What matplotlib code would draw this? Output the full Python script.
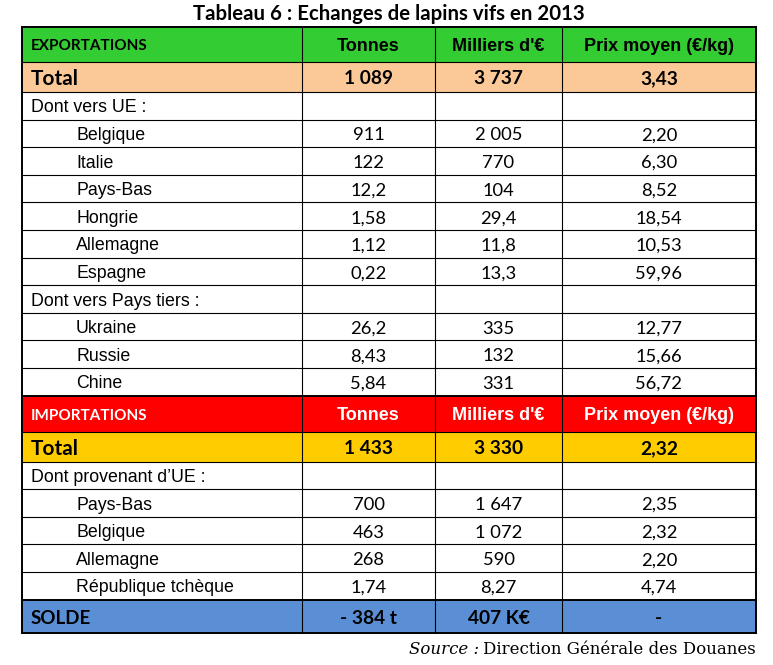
import matplotlib.pyplot as plt
from matplotlib.patches import Rectangle

# données du tableau
title = "Tableau 6 : Echanges de lapins vifs en 2013"
col_headers = ["Tonnes", "Milliers d'€", "Prix moyen (€/kg)"]

export_total = ["1 089", "3 737", "3,43"]
export_ue_pays = ["Belgique", "Italie", "Pays-Bas", "Hongrie", "Allemagne", "Espagne"]
export_ue_tonnes = ["911", "122", "12,2", "1,58", "1,12", "0,22"]
export_ue_milliers = ["2 005", "770", "104", "29,4", "11,8", "13,3"]
export_ue_prix = ["2,20", "6,30", "8,52", "18,54", "10,53", "59,96"]

export_tiers_pays = ["Ukraine", "Russie", "Chine"]
export_tiers_tonnes = ["26,2", "8,43", "5,84"]
export_tiers_milliers = ["335", "132", "331"]
export_tiers_prix = ["12,77", "15,66", "56,72"]

import_total = ["1 433", "3 330", "2,32"]
import_ue_pays = ["Pays-Bas", "Belgique", "Allemagne", "République tchèque"]
import_ue_tonnes = ["700", "463", "268", "1,74"]
import_ue_milliers = ["1 647", "1 072", "590", "8,27"]
import_ue_prix = ["2,35", "2,32", "2,20", "4,74"]

solde = ["- 384 t", "407 K€", "-"]

# couleurs
green = "#33CC33"
peach = "#FBC898"
red = "#FF0000"
yellow = "#FFCC00"
blue = "#5A8FD5"

calibri = "Lato"
arial = "Liberation Sans"

# construction des lignes : (label, valeurs, type)
rows = [("EXPORTATIONS", col_headers, "head_exp"),
        ("Total", export_total, "total_exp"),
        ("Dont vers UE :", ["", "", ""], "sub")]
for i, p in enumerate(export_ue_pays):
    rows.append((p, [export_ue_tonnes[i], export_ue_milliers[i], export_ue_prix[i]], "pays"))
rows.append(("Dont vers Pays tiers :", ["", "", ""], "sub"))
for i, p in enumerate(export_tiers_pays):
    rows.append((p, [export_tiers_tonnes[i], export_tiers_milliers[i], export_tiers_prix[i]], "pays"))
rows.append(("IMPORTATIONS", col_headers, "head_imp"))
rows.append(("Total", import_total, "total_imp"))
rows.append(("Dont provenant d\u2019UE :", ["", "", ""], "sub"))
for i, p in enumerate(import_ue_pays):
    rows.append((p, [import_ue_tonnes[i], import_ue_milliers[i], import_ue_prix[i]], "pays"))
rows.append(("SOLDE", solde, "solde"))

heights = {"head_exp": 35, "head_imp": 36, "total_exp": 30, "total_imp": 30,
           "sub": 27.6, "pays": 27.6, "solde": 33}
fills = {"head_exp": green, "head_imp": red, "total_exp": peach, "total_imp": yellow,
         "sub": "white", "pays": "white", "solde": blue}

col_x = [22, 302, 435, 562, 756]

W, H = 773, 665
fig = plt.figure(figsize=(W / 100, H / 100), dpi=100)
ax = fig.add_axes([0, 0, 1, 1])
ax.set_xlim(0, W)
ax.set_ylim(H, 0)
ax.axis("off")

ax.text((col_x[0] + col_x[-1]) / 2, 14, title, ha="center", va="center",
        fontsize=14.7, fontweight="bold", family=calibri)

y = 27
for label, vals, kind in rows:
    h = heights[kind]
    ax.add_patch(Rectangle((col_x[0], y), col_x[-1] - col_x[0], h,
                           facecolor=fills[kind], edgecolor="none", zorder=1))
    yc = y + h / 2 + 2
    if kind in ("head_exp", "head_imp"):
        fc = "white" if kind == "head_imp" else "black"
        ax.text(col_x[0] + 9, yc, label, ha="left", va="center", fontsize=11,
                fontweight="bold", family=calibri, color=fc, zorder=3)
        for j, v in enumerate(vals):
            ax.text((col_x[j + 1] + col_x[j + 2]) / 2, yc, v, ha="center", va="center",
                    fontsize=13, fontweight="bold", family=arial, color=fc, zorder=3)
    elif kind in ("total_exp", "total_imp", "solde"):
        ax.text(col_x[0] + 9, yc, label, ha="left", va="center",
                fontsize=15 if kind != "solde" else 13.5,
                fontweight="bold", family=calibri, zorder=3)
        for j, v in enumerate(vals):
            ax.text((col_x[j + 1] + col_x[j + 2]) / 2, yc, v, ha="center", va="center",
                    fontsize=13.8, fontweight="bold", family=calibri, zorder=3)
    else:
        x0 = col_x[0] + 9 if kind == "sub" else col_x[0] + 54
        ax.text(x0, yc, label, ha="left", va="center", fontsize=12.8,
                family=arial, zorder=3)
        for j, v in enumerate(vals):
            ax.text((col_x[j + 1] + col_x[j + 2]) / 2, yc, v, ha="center", va="center",
                    fontsize=13.2, family=calibri, zorder=3)
    # ligne du haut
    lw = 1.4 if kind in ("head_exp", "head_imp", "solde") else 0.8
    ax.plot([col_x[0], col_x[-1]], [y, y], color="black", lw=lw, zorder=4)
    y += h

ax.plot([col_x[0], col_x[-1]], [y, y], color="black", lw=1.4, zorder=4)
for k, x in enumerate(col_x):
    lw = 1.4 if k in (0, len(col_x) - 1) else 0.8
    ax.plot([x, x], [27, y], color="black", lw=lw, zorder=4)

# source
src = ax.text(col_x[-1], 650, "Direction Générale des Douanes", ha="right", va="center",
              fontsize=12, family="DejaVu Serif")
fig.canvas.draw()
bb = src.get_window_extent(renderer=fig.canvas.get_renderer())
ax.text(bb.x0 - 4, 650, "Source :", ha="right", va="center",
        fontsize=12, family="DejaVu Serif", style="italic")

plt.savefig("out.png", dpi=100)
